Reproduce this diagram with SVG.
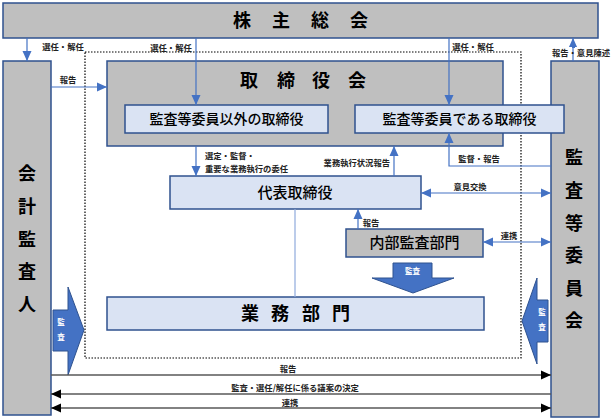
<svg xmlns="http://www.w3.org/2000/svg" width="612" height="420" viewBox="0 0 612 420">
<defs>
<style>
text{font-family:"Noto Sans CJK JP","Noto Sans",sans-serif;fill:#000}
.gray{fill:#bfbfbf;stroke:#2f528f;stroke-width:1.5}
.light{fill:#dae3f3;stroke:#2f528f;stroke-width:1.5}
.big{font-size:18px;font-weight:bold}
.mid{font-size:14px;font-weight:500}
.midb{font-size:15px;font-weight:500}
.sm{font-size:8.3px;font-weight:bold;fill:#222}
.wt{font-size:7.5px;font-weight:bold;fill:#fff}
.blue{stroke:#4472c4;stroke-width:1.2;fill:none}
.dark{stroke:#595959;stroke-width:1.5;fill:none}
.blk{fill:#4472c4;stroke:#2f528f;stroke-width:1}
</style>
<marker id="ab" markerUnits="userSpaceOnUse" markerWidth="10" markerHeight="10" viewBox="0 0 10 10" refX="10" refY="5" orient="auto-start-reverse"><path d="M0,0.5 L10,5 L0,9.5 Z" fill="#4472c4"/></marker>
<marker id="ak" markerUnits="userSpaceOnUse" markerWidth="10" markerHeight="10" viewBox="0 0 10 10" refX="10" refY="5" orient="auto-start-reverse"><path d="M0,0.5 L10,5 L0,9.5 Z" fill="#000"/></marker>
</defs>
<rect x="0" y="0" width="612" height="420" fill="#fff"/>

<rect x="85" y="52" width="436" height="306" fill="none" stroke="#000" stroke-width="1.2" stroke-dasharray="1.5 1.5"/>

<g id="shareholders">
<rect class="gray" x="3" y="3" width="595" height="35"/>
<text class="big" x="242 281 320 359" y="27" text-anchor="middle">株主総会</text>
</g>

<g id="auditor">
<rect class="gray" x="3" y="61" width="48" height="354"/>
<text class="big" x="27" y="180" text-anchor="middle" font-size="17">会</text>
<text class="big" x="27" y="213" text-anchor="middle">計</text>
<text class="big" x="27" y="246" text-anchor="middle">監</text>
<text class="big" x="27" y="278" text-anchor="middle">査</text>
<text class="big" x="27" y="311" text-anchor="middle">人</text>
</g>

<g id="committee">
<rect class="gray" x="551" y="61" width="48" height="356"/>
<text class="big" x="574" y="164" text-anchor="middle">監</text>
<text class="big" x="574" y="197" text-anchor="middle">査</text>
<text class="big" x="574" y="230" text-anchor="middle">等</text>
<text class="big" x="574" y="262" text-anchor="middle">委</text>
<text class="big" x="574" y="295" text-anchor="middle">員</text>
<text class="big" x="574" y="327" text-anchor="middle">会</text>
</g>

<g id="board">
<rect class="gray" x="107" y="61" width="396" height="85"/>
<text class="big" x="249 286 321 357" y="87" text-anchor="middle">取締役会</text>
</g>

<g id="directors-other">
<rect class="light" x="125" y="105" width="203" height="28"/>
<text class="mid" x="226.5" y="124" text-anchor="middle">監査等委員以外の取締役</text>
</g>

<g id="directors-audit">
<rect class="light" x="355" y="105" width="209" height="28"/>
<text class="mid" x="459.5" y="124" text-anchor="middle">監査等委員である取締役</text>
</g>

<g id="representative">
<rect class="light" x="170" y="176" width="251" height="33"/>
<text class="midb" x="295" y="198" text-anchor="middle">代表取締役</text>
</g>

<g id="internal-audit">
<rect class="gray" x="346" y="229" width="137" height="28"/>
<text class="midb" x="414.5" y="248" text-anchor="middle">内部監査部門</text>
</g>

<g id="operations">
<rect class="light" x="107" y="297" width="377" height="33"/>
<text class="big" font-size="16" x="250 280 311 341" y="320" text-anchor="middle">業務部門</text>
</g>

<g id="audit-arrows">
<path class="blk" d="M393,263 L432,263 L432,278 L454,278 L413,293 L372,278 L393,278 Z"/>
<text class="wt" x="412.5" y="274" text-anchor="middle">監査</text>
<path class="blk" d="M53,310 L68,310 L68,287 L84,330 L68,375 L68,351 L53,351 Z"/>
<text class="wt" x="61" y="325" text-anchor="middle">監</text>
<text class="wt" x="61" y="340" text-anchor="middle">査</text>
<path class="blk" d="M548,300 L537,300 L537,278 L522,321 L537,364 L537,342 L548,342 Z"/>
<text class="wt" x="542" y="315" text-anchor="middle">監</text>
<text class="wt" x="542" y="330" text-anchor="middle">査</text>
</g>

<g id="connectors">
<line class="blue" x1="27" y1="38" x2="27" y2="61" marker-end="url(#ab)"/>
<line class="blue" x1="196" y1="38" x2="196" y2="105" marker-end="url(#ab)"/>
<line class="blue" x1="449" y1="38" x2="449" y2="105" marker-end="url(#ab)"/>
<line class="blue" x1="573" y1="61" x2="573" y2="38" marker-end="url(#ab)"/>
<line class="blue" x1="51" y1="87" x2="107" y2="87" marker-end="url(#ab)"/>
<line class="blue" x1="196" y1="146" x2="196" y2="176" marker-end="url(#ab)"/>
<line class="blue" x1="394" y1="176" x2="394" y2="146" marker-end="url(#ab)"/>
<polyline class="blue" points="551,166 449,166 449,133" marker-end="url(#ab)"/>
<line class="blue" x1="421" y1="193" x2="551" y2="193" marker-start="url(#ab)" marker-end="url(#ab)"/>
<line class="blue" x1="358" y1="229" x2="358" y2="209" marker-end="url(#ab)"/>
<line class="blue" x1="483" y1="242" x2="551" y2="242" marker-start="url(#ab)" marker-end="url(#ab)"/>
<line x1="295" y1="209" x2="295" y2="297" stroke="#8faadc" stroke-width="1.2"/>
<line class="dark" x1="51" y1="375" x2="551" y2="375" marker-end="url(#ak)"/>
<line class="dark" x1="551" y1="394" x2="51" y2="394" marker-end="url(#ak)"/>
<line class="dark" x1="51" y1="408" x2="551" y2="408" marker-start="url(#ak)" marker-end="url(#ak)"/>
</g>

<g id="labels">
<text class="sm" x="63" y="50" text-anchor="middle">選任・解任</text>
<text class="sm" x="171" y="51" text-anchor="middle">選任・解任</text>
<text class="sm" x="473" y="50" text-anchor="middle">選任・解任</text>
<rect x="552" y="47" width="20" height="11" fill="#fff"/>
<rect x="575" y="47" width="36" height="11" fill="#fff"/>
<text class="sm" x="581" y="56" text-anchor="middle">報告・意見陳述</text>
<text class="sm" x="68" y="83" text-anchor="middle">報告</text>
<text class="sm" x="205" y="159">選定・監督・</text>
<text class="sm" x="205" y="172">重要な業務執行の委任</text>
<text class="sm" x="390" y="166" text-anchor="end">業務執行状況報告</text>
<text class="sm" x="479" y="162" text-anchor="middle">監督・報告</text>
<text class="sm" x="470" y="190" text-anchor="middle">意見交換</text>
<text class="sm" x="371" y="226" text-anchor="middle">報告</text>
<text class="sm" x="509" y="239" text-anchor="middle">連携</text>
<text class="sm" x="288" y="372" text-anchor="middle">報告</text>
<text class="sm" x="295" y="391" text-anchor="middle">監査・選任/解任に係る議案の決定</text>
<text class="sm" x="290" y="406" text-anchor="middle">連携</text>
</g>
</svg>
